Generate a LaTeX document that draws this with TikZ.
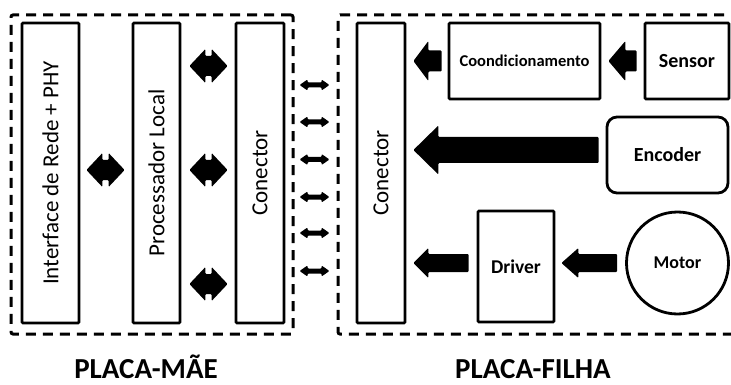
\documentclass[tikz,border=0pt]{standalone}
\usepackage{fontspec}
\setmainfont{Carlito}
\usetikzlibrary{calc}

% Leftward block arrow: #1 tail point, #2 point whose x sets the tip,
% #3 gap at tail, #4 gap at tip, #5 shaft half-height, #6 head half-height, #7 head length
\newcommand\leftblock[7]{%
  \fill[rounded corners=1pt] let \p1=(#1), \p2=(#2) in
    (\x1-#3pt,\y1+#5pt) -- (\x2+#4pt+#7pt,\y1+#5pt) -- (\x2+#4pt+#7pt,\y1+#6pt)
    -- (\x2+#4pt,\y1) -- (\x2+#4pt+#7pt,\y1-#6pt) -- (\x2+#4pt+#7pt,\y1-#5pt)
    -- (\x1-#3pt,\y1-#5pt) -- cycle;}

% Two-headed block arrow: #1 left point (sets y), #2 right point,
% #3 left gap, #4 right gap, #5 shaft half-height, #6 head half-height, #7 head length
\newcommand\twinblock[7]{%
  \fill[rounded corners=1pt] let \p1=(#1), \p2=(#2) in
    (\x1+#3pt,\y1) -- (\x1+#3pt+#7pt,\y1+#6pt) -- (\x1+#3pt+#7pt,\y1+#5pt)
    -- (\x2-#4pt-#7pt,\y1+#5pt) -- (\x2-#4pt-#7pt,\y1+#6pt) -- (\x2-#4pt,\y1)
    -- (\x2-#4pt-#7pt,\y1-#6pt) -- (\x2-#4pt-#7pt,\y1-#5pt)
    -- (\x1+#3pt+#7pt,\y1-#5pt) -- (\x1+#3pt+#7pt,\y1-#6pt) -- cycle;}

\tikzset{
  board/.style={draw, line width=3pt, dash pattern=on 10pt off 7pt,
    rounded corners=2pt, inner sep=0pt, minimum height=319pt},
  block/.style={draw, line width=2.8pt, rounded corners=1pt, inner sep=0pt},
  tallbox/.style={block, minimum width=300pt, rotate=90,
    font=\fontsize{23}{23}\selectfont},
  boldlabel/.style={font=\bfseries\fontsize{#1}{#1}\selectfont},
  caption/.style={font=\bfseries\fontsize{29}{29}\selectfont, anchor=base, inner sep=0pt}
}

\begin{document}
\begin{tikzpicture}[x=1pt, y=-1pt]
\useasboundingbox (0,0) rectangle (731,385);
\clip (0,0) rectangle (731,385);
\fill[white] (0,0) rectangle (731,385);

% board outlines
\node[board, minimum width=282pt] (mae) at (152,174.5) {};
\node[board, minimum width=422pt] (filha) at (549,174.5) {};

% main board (rotated boxes: south is the right side, north the left side)
\node[tallbox, minimum height=57pt] (ifc) at (50.5,173) {Interface de Rede + PHY};
\node[tallbox, minimum height=47pt] (proc) at (156.5,173) {Processador Local};
\node[tallbox, minimum height=48pt] (conL) at (260,173) {Conector};

% daughter board
\node[tallbox, minimum height=48pt] (conR) at (381,173) {Conector};
\node[block, minimum width=151pt, minimum height=76pt, boldlabel=16.5] (cond) at (524.5,61) {Coondicionamento};
\node[block, minimum width=84pt, minimum height=76pt, boldlabel=20] (sensor) at (687,61) {Sensor};
\node[block, rounded corners=10pt, minimum width=121pt, minimum height=76pt, boldlabel=20] (enc) at (667.5,155) {Encoder};
\node[block, minimum width=76pt, minimum height=111pt, boldlabel=19.5] (driver) at (516,266.5) {Driver};
\node[block, circle, minimum size=102pt, boldlabel=18] (motor) at (677.5,263) {Motor};

% row heights of the arrows
\coordinate (rowA) at (0,66);
\coordinate (rowB) at (0,170);
\coordinate (rowC) at (0,284);

% main board links
\twinblock{ifc.south |- rowB}{proc.north}{6}{7}{10}{17}{16}
\foreach \r in {rowA,rowB,rowC}
  \twinblock{proc.south |- \r}{conL.north}{8}{7}{10}{17}{16};

% board-to-board links
\foreach \yy in {85,122,159.5,197,233,271}{
  \coordinate (lnk) at (0,\yy);
  \twinblock{mae.east |- lnk}{filha.west}{5}{7}{2.5}{5.5}{8};
}

% daughter board signal flow
\leftblock{sensor.west}{cond.east}{7}{7}{10.5}{20}{17}
\leftblock{cond.west}{conR.south}{6}{7}{10.5}{20}{15}
\leftblock{$(enc.west)+(0,-5)$}{conR.south}{7}{7}{13}{24.5}{25}
\leftblock{$(driver.west)+(0,-3.5)$}{conR.south}{8}{7}{9}{15}{15}
\leftblock{motor.west}{driver.east}{8}{6}{9}{15}{17}

% captions
\node[caption] (capMae) at (146,378) {PLACA-MÃE};
\node[caption] (capFilha) at (533,378) {PLACA-FILHA};
\end{tikzpicture}
\end{document}
